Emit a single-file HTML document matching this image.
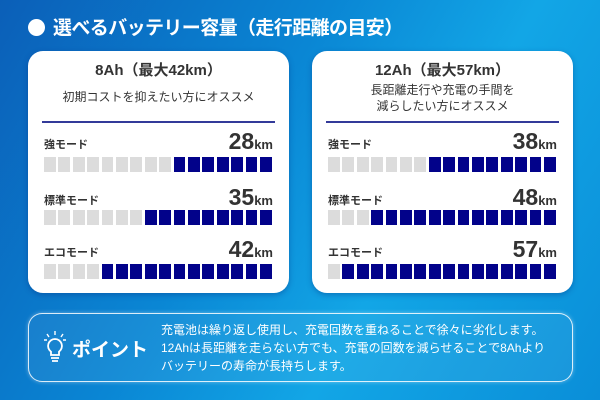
<!DOCTYPE html>
<html><head><meta charset="utf-8"><style>
*{margin:0;padding:0;box-sizing:border-box}
body{width:600px;height:400px;overflow:hidden;font-family:"Liberation Sans","Noto Sans CJK JP",sans-serif;position:relative;
background:linear-gradient(120deg,#0b5fb8 0%,#0a86d4 40%,#12a6e6 65%,#0a8ed8 100%);}
.title{position:absolute;left:28px;top:14px;color:#fff;font-weight:bold;font-size:19px;letter-spacing:-0.6px;line-height:30px;white-space:nowrap}
.title .dot{display:inline-block;width:17px;height:17px;border-radius:50%;background:#fff;vertical-align:-2px;margin-right:8px}
.card{position:absolute;top:51px;width:261px;height:242px;background:#fff;border-radius:15px;box-shadow:0 2px 6px rgba(0,40,120,.35)}
.h{position:absolute;left:0;right:0;text-align:center;color:#333;font-weight:bold;font-size:15px;top:8px}
.s{position:absolute;left:0;right:0;text-align:center;color:#333;font-size:12px;line-height:16px}
.line{position:absolute;left:14px;right:14px;top:70px;height:1.5px;background:#333a99}
.lab{position:absolute;left:16px;font-size:11px;font-weight:bold;color:#333}
.num{position:absolute;right:16px;font-size:23px;font-weight:bold;color:#333;line-height:24px}
.num span{font-size:13px}
.bar{position:absolute;left:16px;width:228px;height:15px;display:flex;justify-content:space-between}
.bar i{display:block;width:11.8px;height:15px;background:#dcdcdc}
.bar i.b{background:#02028a}
.pt{position:absolute;left:28px;top:313px;width:545px;height:69px;border:1.5px solid rgba(255,255,255,.85);border-radius:14px;background:rgba(255,255,255,.06);box-shadow:0 0 4px rgba(255,255,255,.4)}
.pt .k{position:absolute;left:43px;top:21px;color:#fff;font-weight:bold;font-size:19px}
.pt .t{position:absolute;left:132px;top:7px;color:#fff;font-size:12px;line-height:18px;white-space:nowrap}
</style></head><body>
<div class="title"><span class="dot"></span>選べるバッテリー容量（走行距離の目安）</div>

<div class="card" style="left:28px">
<div class="h">8Ah（最大42km）</div>
<div class="s" style="top:38px">初期コストを抑えたい方にオススメ</div>
<div class="line"></div>
<div class="lab" style="top:85px">強モード</div><div class="num" style="top:78px">28<span>km</span></div>
<div class="bar" style="top:106px"><i></i><i></i><i></i><i></i><i></i><i></i><i></i><i></i><i></i><i class="b"></i><i class="b"></i><i class="b"></i><i class="b"></i><i class="b"></i><i class="b"></i><i class="b"></i></div>
<div class="lab" style="top:141px">標準モード</div><div class="num" style="top:134px">35<span>km</span></div>
<div class="bar" style="top:159px"><i></i><i></i><i></i><i></i><i></i><i></i><i></i><i class="b"></i><i class="b"></i><i class="b"></i><i class="b"></i><i class="b"></i><i class="b"></i><i class="b"></i><i class="b"></i><i class="b"></i></div>
<div class="lab" style="top:193px">エコモード</div><div class="num" style="top:186px">42<span>km</span></div>
<div class="bar" style="top:213px"><i></i><i></i><i></i><i></i><i class="b"></i><i class="b"></i><i class="b"></i><i class="b"></i><i class="b"></i><i class="b"></i><i class="b"></i><i class="b"></i><i class="b"></i><i class="b"></i><i class="b"></i><i class="b"></i></div>
</div>

<div class="card" style="left:312px">
<div class="h">12Ah（最大57km）</div>
<div class="s" style="top:31px">長距離走行や充電の手間を<br>減らしたい方にオススメ</div>
<div class="line"></div>
<div class="lab" style="top:85px">強モード</div><div class="num" style="top:78px">38<span>km</span></div>
<div class="bar" style="top:106px"><i></i><i></i><i></i><i></i><i></i><i></i><i></i><i class="b"></i><i class="b"></i><i class="b"></i><i class="b"></i><i class="b"></i><i class="b"></i><i class="b"></i><i class="b"></i><i class="b"></i></div>
<div class="lab" style="top:141px">標準モード</div><div class="num" style="top:134px">48<span>km</span></div>
<div class="bar" style="top:159px"><i></i><i></i><i></i><i class="b"></i><i class="b"></i><i class="b"></i><i class="b"></i><i class="b"></i><i class="b"></i><i class="b"></i><i class="b"></i><i class="b"></i><i class="b"></i><i class="b"></i><i class="b"></i><i class="b"></i></div>
<div class="lab" style="top:193px">エコモード</div><div class="num" style="top:186px">57<span>km</span></div>
<div class="bar" style="top:213px"><i></i><i class="b"></i><i class="b"></i><i class="b"></i><i class="b"></i><i class="b"></i><i class="b"></i><i class="b"></i><i class="b"></i><i class="b"></i><i class="b"></i><i class="b"></i><i class="b"></i><i class="b"></i><i class="b"></i><i class="b"></i></div>
</div>

<div class="pt">
<svg style="position:absolute;left:15px;top:16px" width="22" height="36" viewBox="0 0 22 36" fill="none" stroke="#fff" stroke-width="1.8">
<path d="M11 9a7 7 0 0 0-4 12.7V25h8v-3.3A7 7 0 0 0 11 9z"/><path d="M7 28h8M8 31h6"/>
<path d="M11 1v4M3 4l2 3M19 4l-2 3M0 10h3M19 10h3" stroke-width="1.4"/></svg>
<div class="k">ポイント</div>
<div class="t">充電池は繰り返し使用し、充電回数を重ねることで徐々に劣化します。<br>12Ahは長距離を走らない方でも、充電の回数を減らせることで8Ahより<br>バッテリーの寿命が長持ちします。</div>
</div>
</body></html>
